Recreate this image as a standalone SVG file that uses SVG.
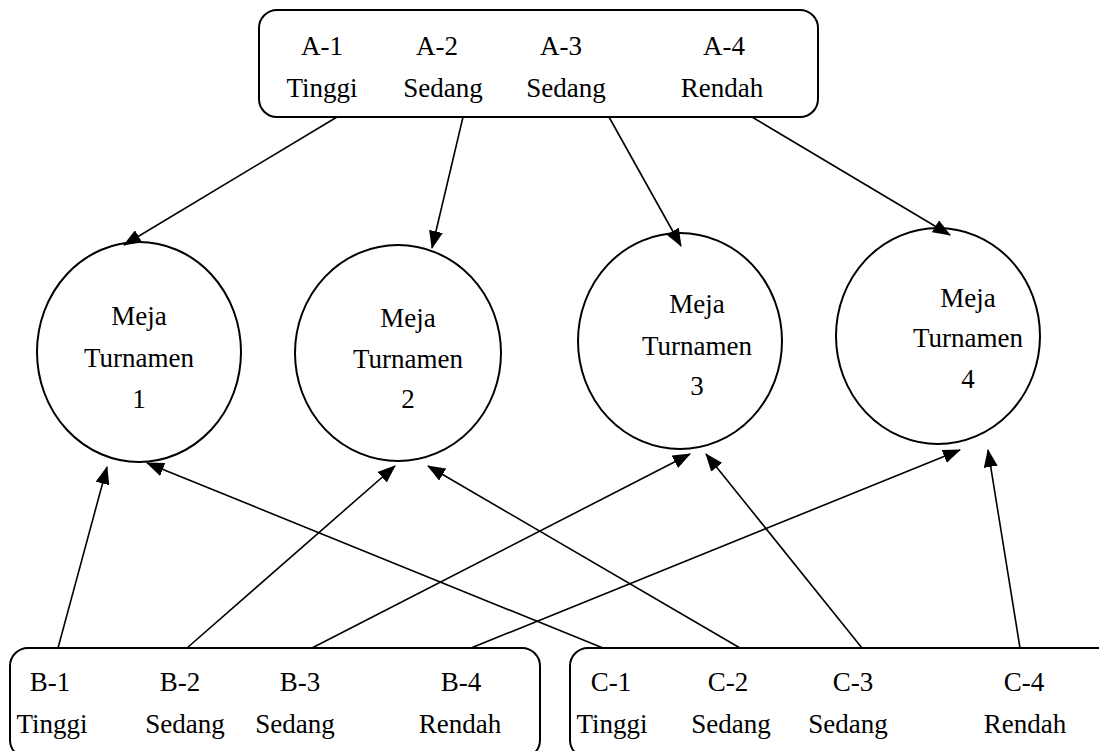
<svg xmlns="http://www.w3.org/2000/svg" width="1099" height="751" viewBox="0 0 1099 751">
<style>
.box{fill:#fff;stroke:#000;stroke-width:2}
text{font-family:'Liberation Serif','Times New Roman',Times,serif;font-size:27px;fill:#000;text-anchor:middle}
.c line{stroke:#000;stroke-width:1.6}
</style>
<defs>
<marker id="ah" markerWidth="18" markerHeight="14" refX="17" refY="7" orient="auto" markerUnits="userSpaceOnUse">
<path d="M0,0 L18,7 L0,14 Z" fill="#000"/>
</marker>
</defs>
<rect width="1099" height="751" fill="#fff"/>
<g font-family="Liberation Serif, Times New Roman, serif">
<g id="boxA">
<rect class="box" x="259" y="10" width="559" height="107" rx="18"/>
<text x="322" y="55">A-1</text><text x="322" y="97">Tinggi</text>
<text x="437" y="55">A-2</text><text x="443" y="97">Sedang</text>
<text x="561" y="55">A-3</text><text x="566" y="97">Sedang</text>
<text x="724" y="55">A-4</text><text x="722" y="97">Rendah</text>
</g>
<g id="meja1">
<ellipse class="box" cx="139" cy="352" rx="102" ry="110"/>
<text x="139" y="325">Meja</text><text x="139" y="367">Turnamen</text><text x="139" y="408">1</text>
</g>
<g id="meja2">
<ellipse class="box" cx="398" cy="353" rx="103" ry="108"/>
<text x="408" y="327">Meja</text><text x="408" y="368">Turnamen</text><text x="408" y="408">2</text>
</g>
<g id="meja3">
<ellipse class="box" cx="680" cy="341" rx="102" ry="108"/>
<text x="697" y="313">Meja</text><text x="697" y="355">Turnamen</text><text x="697" y="395">3</text>
</g>
<g id="meja4">
<ellipse class="box" cx="938" cy="336" rx="102" ry="108"/>
<text x="968" y="307">Meja</text><text x="968" y="347">Turnamen</text><text x="968" y="388">4</text>
</g>
<g id="boxB">
<rect class="box" x="10" y="648" width="530" height="110" rx="18"/>
<text x="50" y="691">B-1</text><text x="52" y="733">Tinggi</text>
<text x="180" y="691">B-2</text><text x="185" y="733">Sedang</text>
<text x="300" y="691">B-3</text><text x="295" y="733">Sedang</text>
<text x="461" y="691">B-4</text><text x="460" y="733">Rendah</text>
</g>
<g id="boxC">
<rect class="box" x="570" y="648" width="545" height="110" rx="18"/>
<text x="611" y="691">C-1</text><text x="612" y="733">Tinggi</text>
<text x="728" y="691">C-2</text><text x="731" y="733">Sedang</text>
<text x="853" y="691">C-3</text><text x="848" y="733">Sedang</text>
<text x="1024" y="691">C-4</text><text x="1025" y="733">Rendah</text>
</g>
</g>
<g id="connectors" class="c">
<line x1="337" y1="117" x2="124" y2="245" marker-end="url(#ah)"/>
<line x1="463" y1="117" x2="432" y2="248" marker-end="url(#ah)"/>
<line x1="609" y1="117" x2="681" y2="246" marker-end="url(#ah)"/>
<line x1="752" y1="117" x2="950" y2="235" marker-end="url(#ah)"/>
<line x1="58" y1="648" x2="107" y2="467" marker-end="url(#ah)"/>
<line x1="603" y1="648" x2="147" y2="463" marker-end="url(#ah)"/>
<line x1="187" y1="648" x2="395" y2="466" marker-end="url(#ah)"/>
<line x1="740" y1="648" x2="428" y2="466" marker-end="url(#ah)"/>
<line x1="312" y1="648" x2="690" y2="454" marker-end="url(#ah)"/>
<line x1="862" y1="648" x2="706" y2="454" marker-end="url(#ah)"/>
<line x1="471" y1="648" x2="960" y2="450" marker-end="url(#ah)"/>
<line x1="1020" y1="648" x2="988" y2="450" marker-end="url(#ah)"/>
</g>
</svg>
